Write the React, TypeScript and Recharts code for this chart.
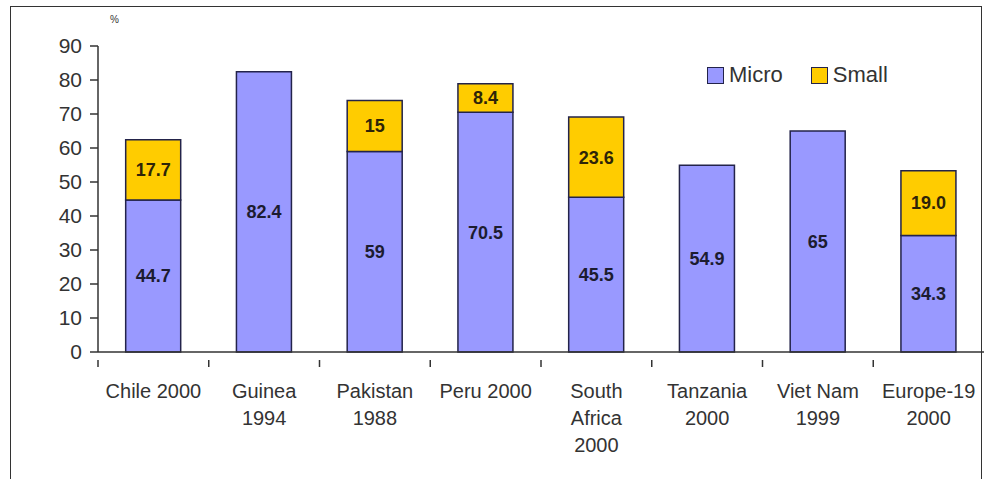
import { ComposedChart, Bar, XAxis, YAxis, LabelList, Legend } from 'recharts';

const categories = [
  'Chile 2000',
  'Guinea\n1994',
  'Pakistan\n1988',
  'Peru 2000',
  'South\nAfrica\n2000',
  'Tanzania\n2000',
  'Viet Nam\n1999',
  'Europe-19\n2000',
];
const micro = [44.7, 82.4, 59, 70.5, 45.5, 54.9, 65, 34.3];
const small = [17.7, null, 15, 8.4, 23.6, null, null, 19.0];
const microLabels = ['44.7', '82.4', '59', '70.5', '45.5', '54.9', '65', '34.3'];
const smallLabels = ['17.7', '', '15', '8.4', '23.6', '', '', '19.0'];
const yTicks = [0, 10, 20, 30, 40, 50, 60, 70, 80, 90];

const COLORS = {
  micro: '#9999FF',
  small: '#FFCC00',
  stroke: '#23234a',
  axis: '#333333',
  text: '#333333',
};

const FONT = "Arial, 'Liberation Sans', sans-serif";
const W = 984;
const H = 479;
const PLOT_LEFT = 98;
const PLOT_RIGHT = 984;
const BAND = (PLOT_RIGHT - PLOT_LEFT) / categories.length;

const data = categories.map((name, i) => ({
  name,
  micro: micro[i],
  small: small[i],
  microLabel: microLabels[i],
  smallLabel: smallLabels[i],
}));

function CategoryTick({ x, y, payload }: any) {
  const lines = String(payload.value).split('\n');
  const left = x - BAND / 2;
  return (
    <g>
      <line x1={left} y1={y} x2={left} y2={y + 7} stroke={COLORS.axis} strokeWidth={1.5} />
      <text x={x} y={y + 38} textAnchor="middle" fontFamily={FONT} fontSize={20} fill={COLORS.text}>
        {lines.map((line: string, i: number) => (
          <tspan key={i} x={x} dy={i === 0 ? 0 : 27}>
            {line}
          </tspan>
        ))}
      </text>
    </g>
  );
}

function LegendBox() {
  const items = [
    { label: 'Micro', color: COLORS.micro },
    { label: 'Small', color: COLORS.small },
  ];
  return (
    <div style={{ display: 'flex', gap: 28, fontFamily: FONT, fontSize: 22, color: '#333', lineHeight: '24px' }}>
      {items.map((item) => (
        <div key={item.label} style={{ display: 'flex', alignItems: 'center', gap: 5 }}>
          <div
            style={{
              width: 15,
              height: 15,
              background: item.color,
              border: `1.5px solid ${COLORS.stroke}`,
            }}
          />
          <span>{item.label}</span>
        </div>
      ))}
    </div>
  );
}

const labelStyle = {
  fontFamily: FONT,
  fontSize: 18,
  fontWeight: 'bold' as const,
  fill: '#1c1c30',
};

export default function App() {
  return (
    <div style={{ position: 'absolute', left: 0, top: 0, width: W, height: H, overflow: 'hidden', background: '#fff' }}>
      <div
        style={{
          position: 'absolute',
          left: 10,
          top: 6,
          width: 970,
          height: 520,
          border: '1.5px solid #333',
        }}
      />
      <div style={{ position: 'absolute', left: 110, top: 14, fontFamily: FONT, fontSize: 10, color: '#333' }}>%</div>
      <ComposedChart
        width={W}
        height={H}
        data={data}
        margin={{ top: 46, right: W - PLOT_RIGHT, bottom: 0, left: PLOT_LEFT - 60 }}
        barCategoryGap="25%"
        style={{ position: 'absolute', left: 0, top: 0 }}
      >
        <XAxis
          dataKey="name"
          interval={0}
          height={127}
          tickLine={false}
          axisLine={{ stroke: COLORS.axis, strokeWidth: 1.5 }}
          tick={<CategoryTick />}
        />
        <YAxis
          width={60}
          domain={[0, 90]}
          ticks={yTicks}
          interval={0}
          tickSize={8}
          tickMargin={8}
          axisLine={{ stroke: COLORS.axis, strokeWidth: 1.5 }}
          tickLine={{ stroke: COLORS.axis, strokeWidth: 1.5 }}
          tick={{ fill: COLORS.text, fontSize: 21, fontFamily: FONT }}
        />
        <Legend
          verticalAlign="middle"
          align="center"
          content={<LegendBox />}
          wrapperStyle={{ position: 'absolute', left: 707, top: 63, width: 'auto' }}
        />
        <Bar dataKey="micro" stackId="a" fill={COLORS.micro} stroke={COLORS.stroke} strokeWidth={1.5} isAnimationActive={false}>
          <LabelList dataKey="microLabel" position="center" style={labelStyle} />
        </Bar>
        <Bar dataKey="small" stackId="a" fill={COLORS.small} stroke={COLORS.stroke} strokeWidth={1.5} isAnimationActive={false}>
          <LabelList dataKey="smallLabel" position="center" style={{ ...labelStyle, fill: '#2e2408' }} />
        </Bar>
      </ComposedChart>
    </div>
  );
}
